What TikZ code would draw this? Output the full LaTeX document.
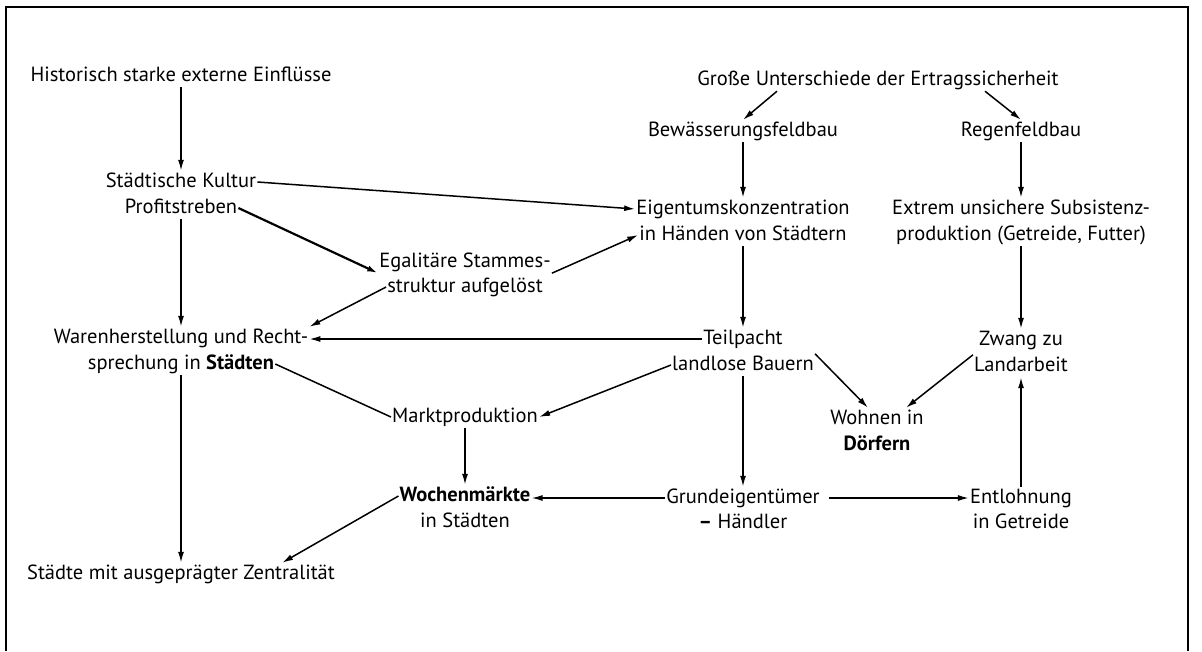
\documentclass[tikz,border=0pt]{standalone}
\usepackage{fontspec}
\setmainfont{PT Sans}
\usetikzlibrary{arrows.meta,calc}

\begin{document}
\begin{tikzpicture}[x=1pt,y=-1pt,
	lbl/.style={font=\fontsize{20.5}{26}\selectfont, inner sep=1pt, text height=15pt, text depth=5pt, anchor=base},
	arr/.style={-{Latex[length=11pt,width=6pt]}, line width=1.5pt},
	lin/.style={line width=1.5pt}]
	\useasboundingbox (0,0) rectangle (1202,651);
	% Frame
	\draw[line width=1.6pt] (6,651) -- (6,7) -- (1188,7) -- (1188,651);
	% Left column
	\node[lbl] (hist) at (181,81) {Historisch starke externe Einflüsse};
	\node[lbl] (kultur) at (181,187) {Städtische Kultur};
	\node[lbl] (profit) at (181,213) {Profitstreben};
	\node[lbl] (waren) at (181,343) {Warenherstellung und Recht-};
	\node[lbl] (sprech) at (181,369) {sprechung in \textbf{Städten}};
	\node[lbl] (staedte) at (181,579) {Städte mit ausgeprägter Zentralität};
	% Middle column
	\node[lbl] (egal1) at (465,267) {Egalitäre Stammes-};
	\node[lbl] (egal2) at (465,292) {struktur aufgelöst};
	\node[lbl] (markt) at (465,422) {Marktproduktion};
	\node[lbl] (wochen) at (465,501) {\textbf{Wochenmärkte}};
	\node[lbl] (instaedte) at (465,527) {in Städten};
	% Irrigation column
	\node[lbl] (gross) at (878,85) {Große Unterschiede der Ertragssicherheit};
	\node[lbl] (bew) at (743,136) {Bewässerungsfeldbau};
	\node[lbl] (eigen1) at (743,214) {Eigentumskonzentration};
	\node[lbl] (eigen2) at (743,240) {in Händen von Städtern};
	\node[lbl] (teil) at (743,344) {Teilpacht};
	\node[lbl] (landlos) at (743,370) {landlose Bauern};
	\node[lbl] (grund) at (743,503) {Grundeigentümer};
	\node[lbl] (haendler) at (743,528) {{\bfseries --} Händler};
	\node[lbl] (wohnen) at (877,424) {Wohnen in};
	\node[lbl] (doerf) at (877,450) {\textbf{Dörfern}};
	% Rain-fed column
	\node[lbl] (regen) at (1021,136) {Regenfeldbau};
	\node[lbl] (subs1) at (1021,214) {Extrem unsichere Subsistenz-};
	\node[lbl] (subs2) at (1021,240) {produktion (Getreide, Futter)};
	\node[lbl] (zwang) at (1021,345) {Zwang zu};
	\node[lbl] (landarb) at (1021,371) {Landarbeit};
	\node[lbl] (entl) at (1021,503) {Entlohnung};
	\node[lbl] (getr) at (1021,528) {in Getreide};
	% Arrows
	\draw[arr] (hist.south) -- (kultur.north);
	\draw[arr] (kultur.east) -- (eigen1.west);
	\draw[arr] (profit.south) -- (waren.north);
	\draw[arr, line width=2.2pt] (profit.east) -- (egal1.south west);
	\draw[arr] (egal2.west) -- (waren.north east);
	\draw[arr] (egal1.south east) -- (eigen2.west);
	\draw[arr] ($(gross.south)+(-101,0)$) -- (bew.north);
	\draw[arr] ($(gross.south)+(107,0)$) -- (regen.north);
	\draw[arr] (bew.south) -- (eigen1.north);
	\draw[arr] (regen.south) -- (subs1.north);
	\draw[arr] (eigen2.south) -- (teil.north);
	\draw[arr] (subs2.south) -- (zwang.north);
	\draw[arr] (teil.west) -- (teil.west -| waren.east);
	\draw[arr] (landlos.west) -- (markt.east);
	\draw[lin] (sprech.east) -- (markt.west);
	\draw[arr] (landlos.north east) -- ($(wohnen.north)+(-9,0)$);
	\draw[arr] (landarb.north west) -- ($(wohnen.north)+(29,0)$);
	\draw[arr] (landlos.south) -- (grund.north);
	\draw[arr] (entl.north) -- (landarb.south);
	\draw[arr] (grund.west) -- (grund.west -| wochen.east);
	\draw[arr] ([xshift=8pt]grund.east) -- (grund.east -| entl.west);
	\draw[arr] (markt.south) -- (wochen.north);
	\draw[arr] (wochen.west) -- ($(staedte.north)+(101,0)$);
	\draw[arr] (sprech.south) -- (staedte.north);
\end{tikzpicture}
\end{document}
